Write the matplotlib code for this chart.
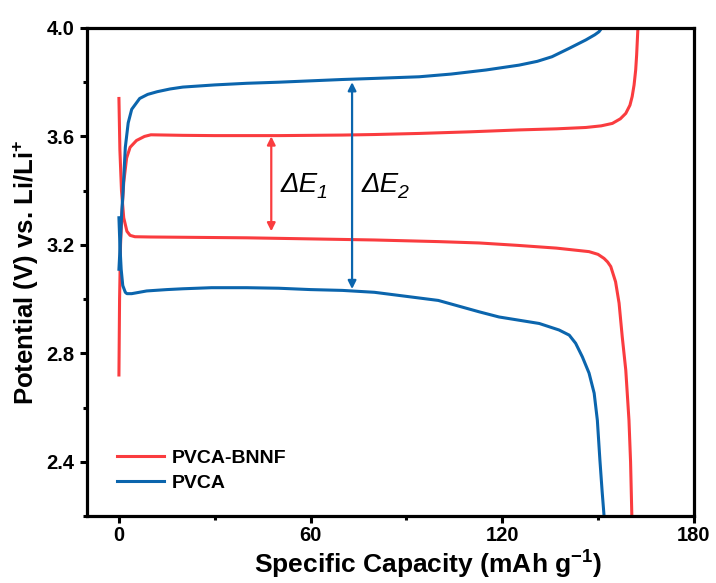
import numpy as np
import matplotlib
matplotlib.use("Agg")
import matplotlib.pyplot as plt
from matplotlib.ticker import MultipleLocator

plt.rcParams['font.family'] = ['Liberation Sans', 'DejaVu Sans']
plt.rcParams['mathtext.fontset'] = 'custom'
plt.rcParams['mathtext.rm'] = 'Liberation Sans:bold'
plt.rcParams['mathtext.bf'] = 'Liberation Sans:bold'
plt.rcParams['mathtext.it'] = 'Liberation Sans:italic'

# PVCA-BNNF charge / discharge
bnnf_chg_x = [0, 0.2, 0.5, 1.0, 1.5, 2.4, 3.5, 5.5, 8, 10, 15, 20, 30, 40, 50, 60, 70, 80,
              94, 110, 125.3, 137, 146.2, 151, 154.5, 157, 158.7, 160, 160.7, 161.3, 161.8,
              162.1, 162.3, 162.5]
bnnf_chg_v = [2.72, 3.0, 3.2, 3.33, 3.43, 3.52, 3.56, 3.585, 3.60, 3.606, 3.605, 3.604,
              3.603, 3.603, 3.603, 3.604, 3.605, 3.607, 3.611, 3.617, 3.624, 3.628, 3.633,
              3.639, 3.648, 3.665, 3.685, 3.715, 3.747, 3.79, 3.845, 3.90, 3.95, 4.0]
bnnf_dis_x = [0, 0.3, 0.8, 1.5, 2.5, 3.5, 5, 10, 20, 30, 40, 50, 60, 70, 80, 90, 100, 112.8,
              125, 137, 147.2, 150, 151.9, 153, 154, 155.5, 156.6, 157.6, 158.7, 159.7,
              160.2, 160.6]
bnnf_dis_v = [3.74, 3.55, 3.40, 3.30, 3.25, 3.235, 3.23, 3.229, 3.228, 3.227, 3.226, 3.224,
              3.222, 3.22, 3.218, 3.215, 3.212, 3.207, 3.198, 3.188, 3.175, 3.165, 3.15,
              3.137, 3.12, 3.064, 2.985, 2.86, 2.738, 2.553, 2.40, 2.2]

# PVCA charge / discharge
pvca_chg_x = [0, 0.4, 0.8, 1.3, 2, 2.9, 4, 6.5, 9, 12, 16, 20, 30, 40, 50, 60, 70, 80, 94,
              104, 114.9, 125.3, 131, 135.6, 141, 146.2, 149, 150.3, 151.2]
pvca_chg_v = [3.11, 3.2, 3.3, 3.40, 3.56, 3.65, 3.70, 3.74, 3.755, 3.765, 3.775, 3.782,
              3.79, 3.796, 3.80, 3.805, 3.81, 3.814, 3.82, 3.83, 3.845, 3.863, 3.877, 3.894,
              3.925, 3.956, 3.975, 3.986, 4.0]
pvca_dis_x = [0, 0.3, 0.7, 1.2, 2, 2.5, 4, 8.7, 15, 20, 29, 40, 50, 60, 70, 80, 90, 100,
              112.8, 119, 125.3, 131.6, 137.8, 141, 143, 145.1, 147.2, 148.8, 149.8, 150.6,
              151.3, 151.9]
pvca_dis_v = [3.30, 3.2, 3.11, 3.05, 3.025, 3.02, 3.02, 3.03, 3.035, 3.038, 3.042, 3.042,
              3.04, 3.035, 3.032, 3.025, 3.01, 2.995, 2.953, 2.934, 2.922, 2.91, 2.886,
              2.867, 2.837, 2.787, 2.727, 2.653, 2.553, 2.406, 2.29, 2.2]

# gap arrows: (x, low, high)
de1 = (47.7, 3.25, 3.60)
de2 = (73.0, 3.037, 3.80)

red = '#fa3c3f'
blue = '#0b65ad'

fig = plt.figure(figsize=(7.16, 5.83), dpi=100)
ax = fig.add_axes([0.1215, 0.115, 0.8475, 0.837])

ax.plot(bnnf_chg_x, bnnf_chg_v, color=red, lw=2.2, label='PVCA-BNNF')
ax.plot(bnnf_dis_x, bnnf_dis_v, color=red, lw=2.2)
ax.plot(pvca_chg_x, pvca_chg_v, color=blue, lw=2.2, label='PVCA')
ax.plot(pvca_dis_x, pvca_dis_v, color=blue, lw=2.2)

for (x, lo, hi), c, sub in [(de1, red, '1'), (de2, blue, '2')]:
    ax.annotate('', xy=(x, hi), xytext=(x, lo),
                arrowprops=dict(arrowstyle='<|-|>', color=c, lw=1.6,
                                mutation_scale=12, shrinkA=0, shrinkB=0))
    t = ax.text(x + 3, 3.42, 'ΔE', fontsize=20, fontstyle='italic', va='center')
    ax.annotate(sub, xy=(1, 0), xycoords=t, xytext=(-1, -3), textcoords='offset points',
                fontsize=14, fontstyle='italic', va='bottom', ha='left')

ax.set_xlim(-10, 180)
ax.set_ylim(2.2, 4.0)
ax.xaxis.set_major_locator(MultipleLocator(60))
ax.xaxis.set_minor_locator(MultipleLocator(30))
ax.yaxis.set_minor_locator(MultipleLocator(0.2))
ax.set_yticks([2.4, 2.8, 3.2, 3.6, 4.0])
ax.set_yticklabels(['2.4', '2.8', '3.2', '3.6', '4.0'])

for s in ax.spines.values():
    s.set_linewidth(2.3)
ax.tick_params(which='major', direction='out', length=5, width=2.2,
               labelsize=14.5, pad=4)
ax.tick_params(axis='x', which='major', pad=2.5)
ax.tick_params(which='minor', direction='out', length=3, width=2.2)
for lab in ax.get_xticklabels() + ax.get_yticklabels():
    lab.set_fontweight('bold')

ax.set_xlabel(r'Specific Capacity (mAh g$^{-1}$)', fontsize=19, fontweight='bold', labelpad=0)
ax.xaxis.set_label_coords(0.562, -0.067)
ax.set_ylabel(r'Potential (V) vs. Li/Li$^{+}$', fontsize=18.5, fontweight='bold', labelpad=4)

ax.legend(loc='lower left', bbox_to_anchor=(0.05, 0.05), frameon=False,
          prop={'weight': 'bold', 'size': 14}, handlelength=2.4, handletextpad=0.4,
          labelspacing=0.35, borderaxespad=0, borderpad=0)

fig.savefig('out.png', dpi=100)
